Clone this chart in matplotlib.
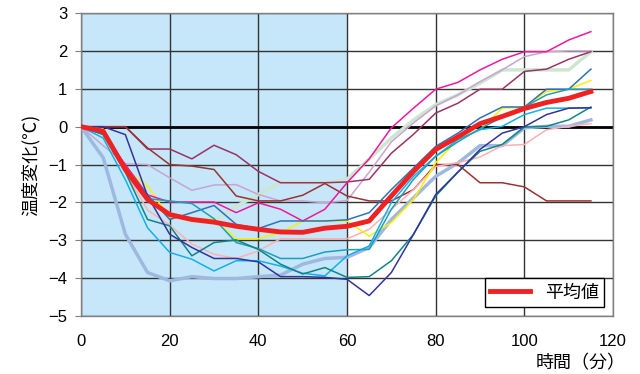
import matplotlib.pyplot as plt

plt.rcParams['font.family'] = ['Liberation Sans', 'Noto Sans CJK JP']

# time in minutes
t = list(range(0, 120, 5))

# individual subjects (temperature change, deg C)
s_maroon = [0, 0, 0, -0.59, -0.59, -0.85, -0.49, -0.74, -1.18, -1.48, -1.48, -1.48,
            -1.46, -1.39, -0.7, -0.2, 0.36, 0.62, 0.99, 0.99, 1.46, 1.52, 1.78, 1.98]
s_brown = [0, 0, 0, -0.56, -1.0, -1.04, -1.13, -1.83, -1.96, -1.96, -1.81, -1.5,
           -1.83, -1.96, -1.96, -1.66, -1.0, -1.0, -1.48, -1.48, -1.59, -1.96, -1.96, -1.96]
s_lavender = [0, -0.5, -0.98, -1.0, -1.35, -1.68, -1.54, -1.53, -1.79, -1.96, -1.96, -2.01,
              -1.95, -1.2, -0.4, 0.1, 0.55, 0.84, 1.19, 1.5, 1.85, 1.98, 2.0, 2.0]
s_palegreen = [0, -0.2, -1.2, -1.9, -2.3, -2.5, -2.5, -2.1, -1.79, -1.48, -1.48, -1.48,
               -1.39, -0.85, -0.3, 0.18, 0.58, 0.84, 1.15, 1.5, 1.5, 1.5, 1.5, 1.98]
s_pink = [0, -0.2, -1.0, -1.8, -1.99, -1.99, -1.99, -2.27, -2.01, -2.18, -2.49, -2.18,
          -1.48, -0.85, -0.03, 0.49, 0.99, 1.17, 1.5, 1.78, 1.98, 1.98, 2.29, 2.51]
s_blue = [0, -0.2, -1.1, -1.8, -2.45, -2.27, -2.08, -2.58, -2.69, -2.49, -2.49, -2.49,
          -2.46, -2.27, -1.66, -1.09, -0.52, -0.17, 0.23, 0.52, 0.52, 0.99, 0.99, 1.52]
s_yellow = [0, -0.06, -1.13, -1.57, -2.4, -2.42, -2.45, -2.96, -2.96, -2.8, -2.49, -2.49,
            -2.49, -2.89, -2.53, -1.92, -0.95, -0.34, -0.08, 0.49, 0.52, 0.93, 0.99, 1.22]
s_skyblue = [0, -0.3, -1.4, -2.67, -3.32, -3.5, -3.81, -3.54, -3.54, -3.68, -3.87, -3.94,
             -3.41, -3.15, -2.0, -1.31, -0.78, -0.34, -0.08, 0.01, 0.32, 0.49, 0.49, 0.5]
s_steel = [0, -0.82, -2.84, -3.85, -4.07, -3.96, -4.01, -4.01, -3.96, -3.92, -3.63, -3.48,
           -3.45, -3.19, -2.45, -1.88, -1.31, -0.96, -0.5, -0.5, -0.03, 0.01, 0.01, 0.18]
s_navy = [0, 0, -0.21, -1.83, -2.84, -3.19, -3.48, -3.48, -3.57, -3.96, -3.96, -3.98,
          -4.03, -4.46, -3.85, -2.84, -1.79, -1.2, -0.6, -0.17, 0.0, 0.32, 0.49, 0.5]
s_teal = [0, -0.2, -1.2, -2.45, -2.62, -3.41, -3.06, -2.99, -3.24, -3.63, -3.89, -3.72,
          -3.98, -3.96, -3.54, -2.84, -1.83, -1.2, -0.65, -0.47, -0.01, 0.01, 0.18, 0.52]
s_cyan = [0, -0.2, -1.1, -1.9, -1.96, -2.03, -2.43, -3.06, -3.22, -3.48, -3.48, -3.31,
          -3.25, -3.24, -2.18, -1.39, -0.78, -0.4, -0.05, 0.25, 0.52, 0.84, 0.99, 0.99]
s_salmon = [0, -0.2, -1.2, -2.2, -2.6, -3.1, -3.37, -3.48, -3.28, -2.96, -2.96, -2.96,
            -2.96, -2.71, -2.18, -1.66, -1.05, -0.95, -0.8, -0.5, -0.47, -0.08, 0.01, 0.08]

# average of all subjects
mean = [0, -0.12, -1.13, -1.92, -2.32, -2.45, -2.52, -2.63, -2.71, -2.78, -2.79, -2.68,
        -2.63, -2.49, -1.83, -1.18, -0.6, -0.27, 0.08, 0.27, 0.48, 0.64, 0.75, 0.93]

subjects = [
    (s_steel, "#9fb8e0", 2.5),
    (s_palegreen, "#cde6cf", 2.5),
    (s_lavender, "#c9a3d2", 1.1),
    (s_maroon, "#993366", 1.1),
    (s_brown, "#993333", 1.1),
    (s_salmon, "#ffb0b0", 1.1),
    (s_yellow, "#ffee00", 1.1),
    (s_pink, "#f0189a", 1.1),
    (s_blue, "#2f72b8", 1.1),
    (s_skyblue, "#12b0ec", 1.1),
    (s_cyan, "#1c9fbd", 1.1),
    (s_teal, "#108585", 1.1),
    (s_navy, "#33339a", 1.1),
]

fig = plt.figure(figsize=(6.4, 3.74), dpi=100)
ax = fig.add_axes([0.1266, 0.155, 0.8313, 0.810])

# infusion period shading
ax.axvspan(0, 60, color="#c5e7f9", zorder=0, linewidth=0)

ax.grid(True, color="#333333", linewidth=1, zorder=1)
ax.axhline(0, color="black", linewidth=2, zorder=2)

for vals, col, lw in subjects:
    ax.plot(t, vals, color=col, linewidth=lw, zorder=3)

ax.plot(t, mean, color="#ee2222", linewidth=3.5, zorder=4, label="平均値")

ax.set_xlim(0, 120)
ax.set_ylim(-5, 3)
ax.set_xticks(range(0, 121, 20))
ax.set_yticks(range(-5, 4))
ax.set_yticklabels(["\u2212%d" % abs(v) if v < 0 else str(v) for v in range(-5, 4)])
ax.tick_params(axis="x", length=0, labelsize=12, pad=13)
ax.tick_params(axis="y", length=4, color="#808080", labelsize=12, pad=6)

for sp in ax.spines.values():
    sp.set_color("#808080")
    sp.set_linewidth(1)

ax.set_ylabel("温度変化(℃)", fontsize=13, family=["Noto Sans CJK JP"], labelpad=6)
fig.text(0.978, 0.005, "時間（分）", fontsize=13, family=["Noto Sans CJK JP"],
         ha="right", va="bottom")

leg = ax.legend(loc="lower right", frameon=True, fancybox=False,
                framealpha=1, edgecolor="black", borderpad=0.3, handlelength=2.2,
                prop={"family": ["Noto Sans CJK JP"], "size": 13})
leg.get_frame().set_linewidth(1)

plt.savefig("out.png", dpi=100)
plt.close()
